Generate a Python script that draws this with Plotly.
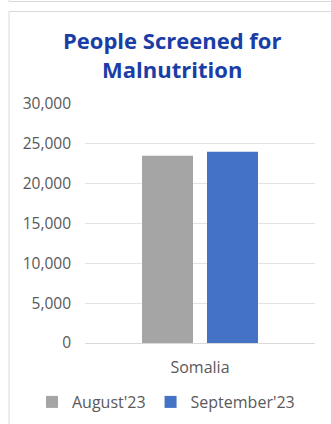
import plotly.graph_objects as go

# Data
categories = ["Somalia"]
series_names = ["August'23", "September'23"]
august_values = [23500]
september_values = [24000]
y_ticks = [0, 5000, 10000, 15000, 20000, 25000, 30000]

W, H = 331, 424
L, R, T, B = 85, 16, 104, 81
PW, PH = W - L - R, H - T - B


def px_x(px):
    return (px - L) / PW


def px_y(py):
    return (H - B - py) / PH


GRAY = "#A5A5A5"
BLUE = "#4472C4"
TEXT = "#595959"
FONT = "Open Sans"

fig = go.Figure()
fig.add_trace(go.Bar(name=series_names[0], x=categories, y=august_values,
                     marker_color=GRAY, marker_line_width=0))
fig.add_trace(go.Bar(name=series_names[1], x=categories, y=september_values,
                     marker_color=BLUE, marker_line_width=0))

border = dict(color="#D9D9D9", width=1)
shapes = [
    dict(type="line", xref="paper", yref="paper", x0=px_x(9), x1=px_x(331),
         y0=px_y(1.5), y1=px_y(1.5), line=border),
    dict(type="line", xref="paper", yref="paper", x0=px_x(9), x1=px_x(9),
         y0=px_y(0), y1=px_y(1.5), line=border),
    dict(type="line", xref="paper", yref="paper", x0=px_x(9), x1=px_x(331),
         y0=px_y(11.5), y1=px_y(11.5), line=border),
    dict(type="line", xref="paper", yref="paper", x0=px_x(9), x1=px_x(9),
         y0=px_y(11.5), y1=px_y(424), line=border),
]

fig.update_layout(
    width=W, height=H,
    margin=dict(l=L, r=R, t=T, b=B, autoexpand=False),
    paper_bgcolor="white", plot_bgcolor="white",
    barmode="group", bargap=0.435, bargroupgap=0.215,
    font=dict(family=FONT, color=TEXT, size=15),
    showlegend=True,
    # anchored left of the plot area so the single row may span the margin
    legend=dict(orientation="h", xref="paper", yref="paper",
                x=px_x(32), xanchor="left",
                y=px_y(402), yanchor="middle",
                font=dict(size=16, color=TEXT, family=FONT),
                itemclick=False, tracegroupgap=0, itemwidth=30),
    annotations=[dict(
        text="<b>People Screened for<br>Malnutrition</b>",
        xref="paper", yref="paper", x=px_x(172), y=px_y(55),
        xanchor="center", yanchor="middle", showarrow=False,
        font=dict(family=FONT, size=22, color="#1A3DA6"),
    )],
    shapes=shapes,
    xaxis=dict(showline=False, ticks="", tickfont=dict(size=16, color=TEXT),
               ticklabelstandoff=13),
    yaxis=dict(range=[0, 30000], tickvals=y_ticks, tickformat=",d",
               showgrid=True, gridcolor="#E3E3E3", gridwidth=1,
               zeroline=True, zerolinecolor="#D9D9D9", zerolinewidth=1,
               showline=False, ticks="", ticklabelstandoff=13,
               tickfont=dict(size=15.5, color=TEXT)),
)

fig.write_html("out.html")
